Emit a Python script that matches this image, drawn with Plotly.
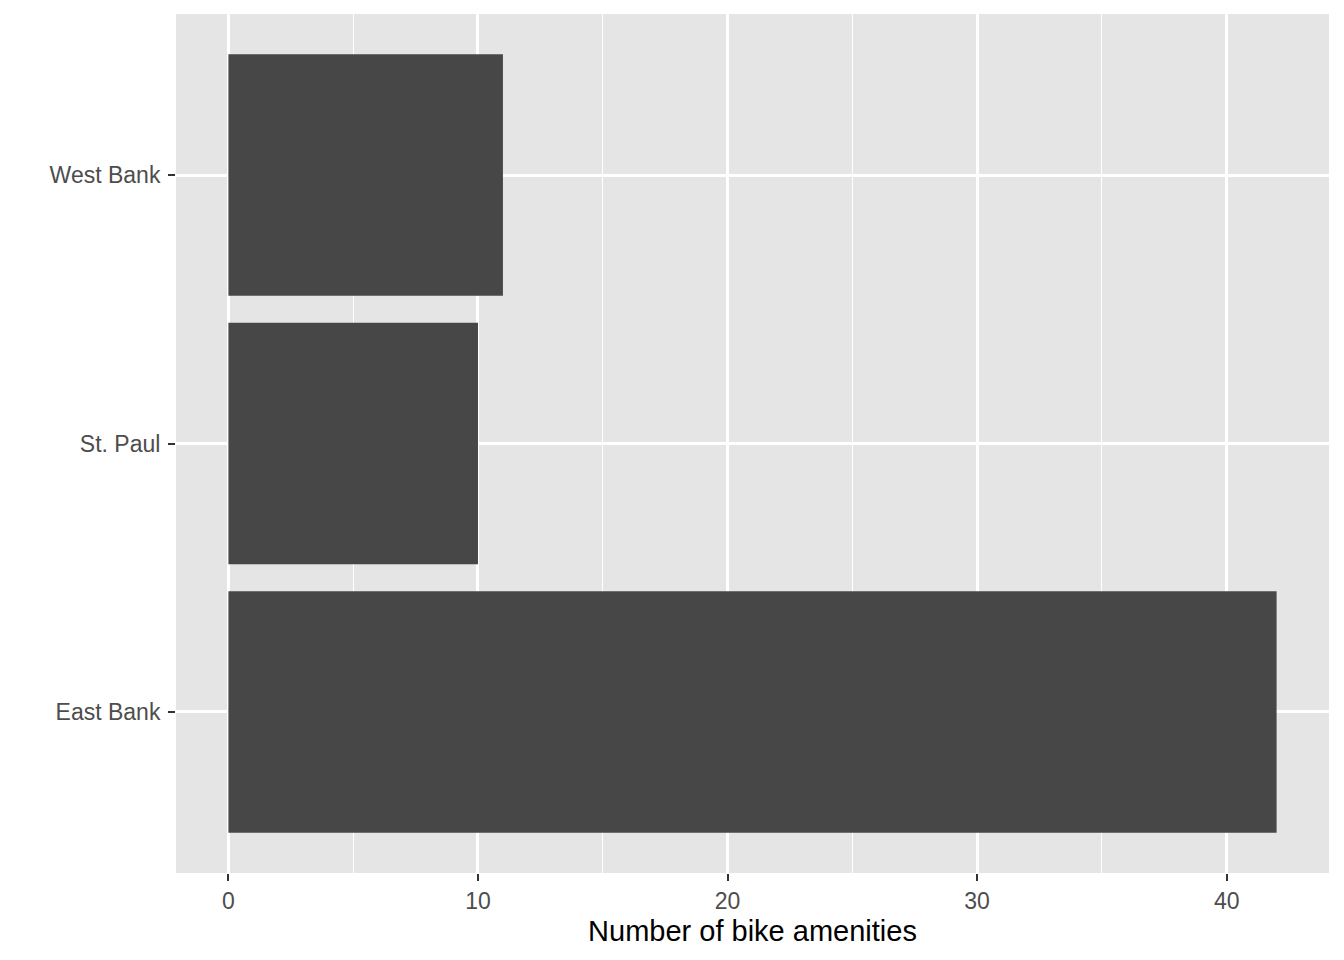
import plotly.graph_objects as go

# bike amenities per campus area
areas = ["East Bank", "St. Paul", "West Bank"]
counts = [42, 10, 11]

x_ticks = [0, 10, 20, 30, 40]
x_minor = [5, 15, 25, 35]

fig = go.Figure()
fig.add_trace(go.Bar(
    x=counts,
    y=areas,
    orientation="h",
    width=0.9,
    marker=dict(color="#474747", line=dict(width=0)),
))

# page has an 8px body margin, so shrink the figure to fit the window
fig.update_layout(
    width=1336,
    height=952,
    margin=dict(l=168, r=15, t=6, b=87),
    paper_bgcolor="white",
    plot_bgcolor="#E5E5E5",
    font=dict(family="Liberation Sans, Arial, sans-serif"),
    showlegend=False,
    bargap=0.1,
)

fig.update_xaxes(
    range=[-2.1, 44.1],
    tickvals=x_ticks,
    ticktext=[str(v) for v in x_ticks],
    showgrid=True,
    gridcolor="white",
    gridwidth=2.5,
    minor=dict(tickvals=x_minor, showgrid=True, gridcolor="white", gridwidth=1.2, ticks=""),
    zeroline=False,
    ticks="outside",
    ticklen=7,
    tickwidth=2.2,
    tickcolor="#333333",
    tickfont=dict(size=23, color="#4D4D4D"),
    title=dict(text="Number of bike amenities", font=dict(size=29, color="black"), standoff=8),
    showline=False,
)

fig.update_yaxes(
    range=[-0.6, 2.6],
    categoryorder="array",
    categoryarray=areas,
    showgrid=True,
    gridcolor="white",
    gridwidth=2.5,
    zeroline=False,
    ticks="outside",
    ticklen=7,
    tickwidth=2.2,
    tickcolor="#333333",
    tickfont=dict(size=23, color="#4D4D4D"),
    ticklabelstandoff=3,
    showline=False,
)

fig.write_html("out.html")
